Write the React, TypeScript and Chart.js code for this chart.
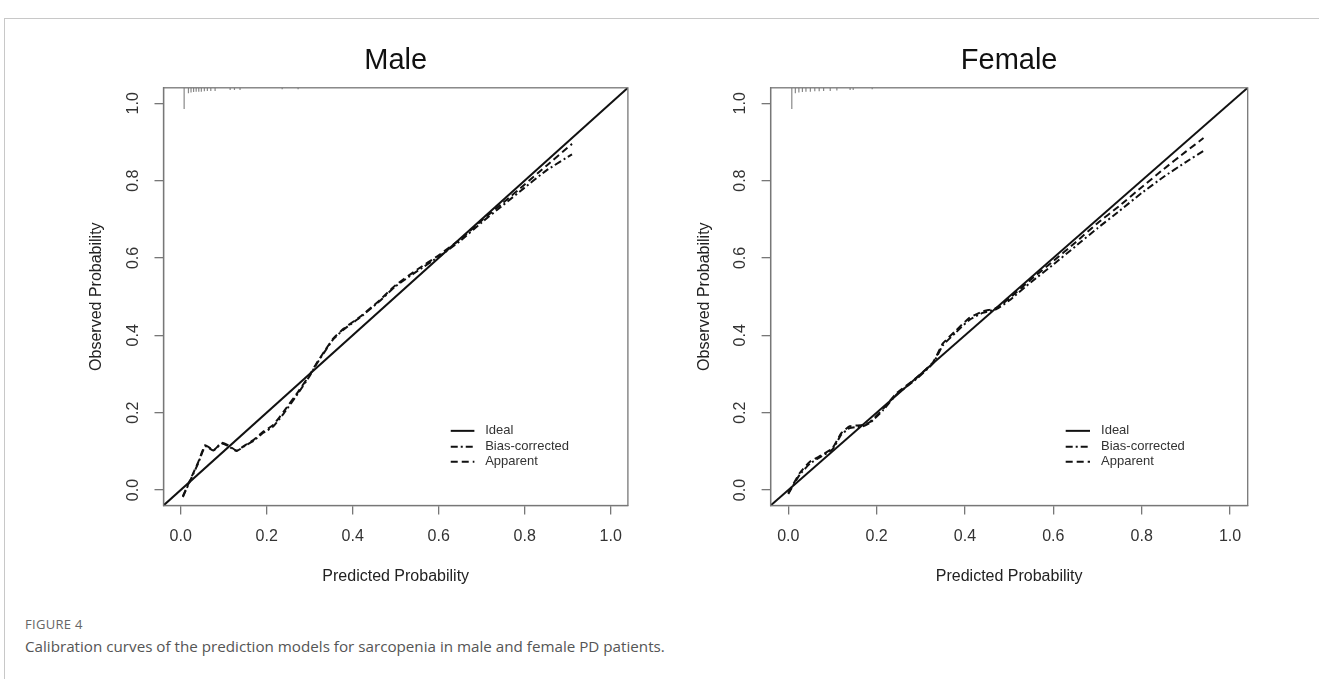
import React, { useEffect, useRef } from 'react';
import { Chart, registerables } from 'chart.js';

Chart.register(...registerables);

// ---------- data ----------
const TICK_VALUES = [0, 0.2, 0.4, 0.6, 0.8, 1.0];
const AXIS_MIN = -0.04;
const AXIS_MAX = 1.04;

const LEGEND_LABELS = ['Ideal', 'Bias-corrected', 'Apparent'];

const maleX = [0.005, 0.022, 0.041, 0.057, 0.076, 0.095, 0.11, 0.13, 0.15, 0.169, 0.192, 0.215, 0.239, 0.273, 0.3, 0.316, 0.335, 0.355, 0.38, 0.417, 0.463, 0.5, 0.55, 0.6, 0.65, 0.7, 0.75, 0.8, 0.85, 0.91];
const maleApparent = [-0.016, 0.026, 0.073, 0.116, 0.103, 0.122, 0.116, 0.102, 0.116, 0.129, 0.151, 0.168, 0.202, 0.254, 0.298, 0.328, 0.36, 0.392, 0.418, 0.448, 0.491, 0.53, 0.57, 0.607, 0.648, 0.697, 0.743, 0.79, 0.838, 0.895];
const maleBias = [-0.018, 0.024, 0.07, 0.113, 0.102, 0.12, 0.114, 0.101, 0.115, 0.127, 0.148, 0.164, 0.197, 0.25, 0.295, 0.326, 0.358, 0.39, 0.416, 0.446, 0.489, 0.527, 0.566, 0.603, 0.644, 0.692, 0.737, 0.782, 0.826, 0.868];
const maleRugX = [0.008, 0.018, 0.024, 0.03, 0.036, 0.042, 0.048, 0.055, 0.062, 0.07, 0.08, 0.115, 0.125, 0.138, 0.236, 0.273];
const maleRugH = [0.055, 0.014, 0.012, 0.011, 0.01, 0.01, 0.01, 0.009, 0.008, 0.008, 0.008, 0.006, 0.006, 0.006, 0.004, 0.004];

const femaleX = [0.0, 0.026, 0.049, 0.075, 0.1, 0.12, 0.139, 0.169, 0.185, 0.215, 0.245, 0.29, 0.328, 0.35, 0.38, 0.41, 0.44, 0.47, 0.5, 0.55, 0.6, 0.65, 0.7, 0.75, 0.8, 0.85, 0.9, 0.94];
const femaleApparent = [-0.008, 0.044, 0.073, 0.09, 0.108, 0.147, 0.165, 0.168, 0.176, 0.21, 0.25, 0.29, 0.331, 0.379, 0.413, 0.445, 0.462, 0.47, 0.495, 0.545, 0.592, 0.64, 0.69, 0.735, 0.783, 0.83, 0.875, 0.91];
const femaleBias = [-0.01, 0.04, 0.068, 0.087, 0.105, 0.143, 0.16, 0.165, 0.174, 0.207, 0.247, 0.287, 0.328, 0.374, 0.408, 0.44, 0.458, 0.467, 0.49, 0.538, 0.583, 0.63, 0.677, 0.722, 0.768, 0.81, 0.848, 0.877];
const femaleRugX = [0.008, 0.016, 0.024, 0.032, 0.04, 0.05, 0.06, 0.07, 0.08, 0.095, 0.11, 0.14, 0.147, 0.19];
const femaleRugH = [0.055, 0.014, 0.012, 0.011, 0.01, 0.01, 0.009, 0.009, 0.008, 0.008, 0.007, 0.006, 0.006, 0.004];

// ---------- styles ----------
const FONT = '"Liberation Sans", Arial, Helvetica, sans-serif';
const AXIS_COLOR = '#777';
const TEXT_COLOR = '#333';
const LINE_COLOR = '#111';
const BIAS_DASH = [7, 3, 2, 3];
const APPARENT_DASH = [7, 4];
const LEGEND_LINE_X0 = 0.628;
const LEGEND_LINE_X1 = 0.683;
const LEGEND_TEXT_X = 0.708;
const LEGEND_ROWS_Y = [0.153, 0.112, 0.073];

const Y_AXIS_W = 76.1;
const X_AXIS_H = 81.1;

const framePlugin = {
  id: 'calFrame',
  afterDraw(chart: any, _args: any, opts: any) {
    const { ctx, chartArea: a, scales } = chart;
    ctx.save();
    ctx.strokeStyle = AXIS_COLOR;
    ctx.lineWidth = 1.3;
    ctx.strokeRect(a.left, a.top, a.right - a.left, a.bottom - a.top);

    ctx.fillStyle = '#111';
    ctx.font = `29px ${FONT}`;
    ctx.textAlign = 'center';
    ctx.textBaseline = 'alphabetic';
    ctx.fillText(opts.title, (a.left + a.right) / 2, opts.titleY);

    const xs = scales.x;
    const ys = scales.y;
    const dashes = [[], BIAS_DASH, APPARENT_DASH];
    ctx.font = `13px ${FONT}`;
    ctx.textAlign = 'left';
    ctx.textBaseline = 'middle';
    LEGEND_LABELS.forEach((lab, i) => {
      const py = ys.getPixelForValue(LEGEND_ROWS_Y[i]);
      ctx.strokeStyle = LINE_COLOR;
      ctx.lineWidth = 2;
      ctx.setLineDash(dashes[i]);
      ctx.beginPath();
      ctx.moveTo(xs.getPixelForValue(LEGEND_LINE_X0), py);
      ctx.lineTo(xs.getPixelForValue(LEGEND_LINE_X1), py);
      ctx.stroke();
      ctx.setLineDash([]);
      ctx.fillStyle = TEXT_COLOR;
      ctx.fillText(lab, xs.getPixelForValue(LEGEND_TEXT_X), py);
    });
    ctx.restore();
  },
};

function axisConfig(isY: boolean) {
  return {
    type: 'linear',
    position: isY ? 'left' : 'bottom',
    min: AXIS_MIN,
    max: AXIS_MAX,
    afterBuildTicks: (s: any) => {
      s.ticks = TICK_VALUES.map((v) => ({ value: v }));
    },
    afterFit: (s: any) => {
      if (isY) s.width = Y_AXIS_W;
      else s.height = X_AXIS_H;
    },
    ticks: {
      color: TEXT_COLOR,
      font: { size: 16, family: FONT },
      padding: isY ? 10 : 12,
      callback: (v: any) => Number(v).toFixed(1),
      ...(isY ? { minRotation: 90, maxRotation: 90, crossAlign: 'center' } : { maxRotation: 0 }),
    },
    grid: {
      drawOnChartArea: false,
      drawTicks: true,
      tickLength: 9,
      color: AXIS_COLOR,
      lineWidth: 1.3,
    },
    border: { display: true, color: AXIS_COLOR, width: 1.3 },
    title: {
      display: true,
      text: isY ? 'Observed Probability' : 'Predicted Probability',
      color: '#222',
      font: { size: 16, family: FONT },
      padding: 0,
    },
  };
}

type PanelProps = {
  title: string;
  xs: number[];
  apparent: number[];
  bias: number[];
  rugX: number[];
  rugH: number[];
  left: number;
  width: number;
  padLeft: number;
  padRight: number;
};

const CANVAS_H = 610;
const PAD_TOP = 87.8;

function Panel(p: PanelProps) {
  const ref = useRef<HTMLCanvasElement | null>(null);
  useEffect(() => {
    if (!ref.current) return;
    const rug: any[] = [];
    p.rugX.forEach((x, i) => {
      rug.push({ x, y: AXIS_MAX });
      rug.push({ x, y: AXIS_MAX - p.rugH[i] });
      rug.push({ x, y: null });
    });
    const chart = new Chart(ref.current, {
      type: 'scatter',
      data: {
        datasets: [
          {
            label: 'Rug',
            data: rug,
            showLine: true,
            spanGaps: false,
            borderColor: '#888',
            borderWidth: 1.2,
            pointRadius: 0,
          },
          {
            label: 'Ideal',
            data: [
              { x: AXIS_MIN, y: AXIS_MIN },
              { x: AXIS_MAX, y: AXIS_MAX },
            ],
            showLine: true,
            borderColor: LINE_COLOR,
            borderWidth: 2,
            pointRadius: 0,
          },
          {
            label: 'Bias-corrected',
            data: p.xs.map((x, i) => ({ x, y: p.bias[i] })),
            showLine: true,
            borderColor: LINE_COLOR,
            borderWidth: 2,
            borderDash: BIAS_DASH,
            pointRadius: 0,
            tension: 0.15,
          },
          {
            label: 'Apparent',
            data: p.xs.map((x, i) => ({ x, y: p.apparent[i] })),
            showLine: true,
            borderColor: LINE_COLOR,
            borderWidth: 2,
            borderDash: APPARENT_DASH,
            pointRadius: 0,
            tension: 0.15,
          },
        ],
      } as any,
      options: {
        responsive: false,
        animation: false,
        layout: {
          padding: { left: p.padLeft, right: p.padRight, top: PAD_TOP, bottom: CANVAS_H - PAD_TOP - 417.7 - X_AXIS_H },
        },
        plugins: {
          legend: { display: false },
          tooltip: { enabled: false },
          calFrame: { title: p.title, titleY: 69 },
        } as any,
        scales: {
          x: axisConfig(false) as any,
          y: axisConfig(true) as any,
        },
      },
      plugins: [framePlugin as any],
    });
    return () => chart.destroy();
  }, []);
  return (
    <canvas
      ref={ref}
      width={p.width}
      height={CANVAS_H}
      style={{ position: 'absolute', left: p.left, top: 0, width: p.width, height: CANVAS_H }}
    />
  );
}

export default function App() {
  return (
    <div style={{ position: 'fixed', left: 0, top: 0, width: 1319, height: 679, background: '#fff', overflow: 'hidden' }}>
      <div style={{ position: 'absolute', left: 4, top: 18, right: 0, height: 0, borderTop: '1px solid #c8c8c8' }} />
      <div style={{ position: 'absolute', left: 4, top: 18, bottom: 0, width: 0, borderLeft: '1px solid #c8c8c8' }} />
      <Panel
        title="Male"
        xs={maleX}
        apparent={maleApparent}
        bias={maleBias}
        rugX={maleRugX}
        rugH={maleRugH}
        left={0}
        width={660}
        padLeft={87.4}
        padRight={32.1}
      />
      <Panel
        title="Female"
        xs={femaleX}
        apparent={femaleApparent}
        bias={femaleBias}
        rugX={femaleRugX}
        rugH={femaleRugH}
        left={660}
        width={640}
        padLeft={34.5}
        padRight={52.3}
      />
      <div
        style={{
          position: 'absolute',
          left: 25,
          top: 615,
          fontFamily: '"Open Sans", "Noto Sans", sans-serif',
          fontSize: 13,
          color: '#666',
          letterSpacing: 0.3,
          lineHeight: '18px',
        }}
      >
        FIGURE 4
      </div>
      <div
        style={{
          position: 'absolute',
          left: 25,
          top: 635,
          fontFamily: '"Open Sans", "Noto Sans", sans-serif',
          fontSize: 15.2,
          color: '#555',
          lineHeight: '22px',
          whiteSpace: 'nowrap',
        }}
      >
        Calibration curves of the prediction models for sarcopenia in male and female PD patients.
      </div>
    </div>
  );
}
